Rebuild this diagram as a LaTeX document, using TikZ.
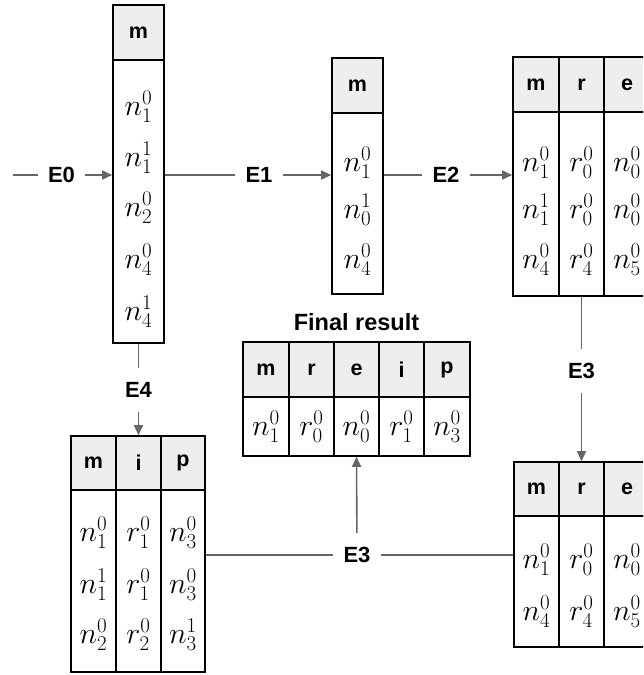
\RequirePackage{fix-cm}
\documentclass[tikz,border=0pt]{standalone}
\usepackage{fontspec}
\setmainfont{Liberation Sans}
\usetikzlibrary{arrows.meta}
\definecolor{hdr}{HTML}{EEEEEE}
\definecolor{conncol}{HTML}{666666}
\newcommand\mkcell[7]{\node[#2, minimum width={#4-#3}, minimum height={#6-#5}] (#1) at ({(#3+#4)/2},{(#5+#6)/2}) {#7};}
\begin{document}
\begin{tikzpicture}[x=1pt,y=-1pt,
  hcell/.style={draw=black, line width=1.6pt, fill=hdr, inner sep=0pt, font=\fontsize{21.5}{24}\selectfont\bfseries},
  bcell/.style={draw=black, line width=1.6pt, fill=white, inner sep=0pt},
  val/.style={inner sep=0pt, font=\fontsize{30}{34}\selectfont},
  lbl/.style={inner xsep=10pt, inner ysep=14pt, font=\fontsize{22}{26}\selectfont\bfseries},
  title/.style={inner sep=0pt, font=\fontsize{23.5}{28}\selectfont\bfseries},
  conn/.style={draw=conncol, line width=1.6pt},
  arr/.style={conn, -{Triangle[length=10pt,width=9pt]}},
]
\useasboundingbox (0,0) rectangle (643,675);
\clip (0,0) rectangle (643,675);

% Table T0
\mkcell{t0h}{hcell}{113}{164}{5}{60}{m}
\mkcell{t0b}{bcell}{113}{164}{60}{343}{}
\node[val] (t0v1) at (138.5,107) {$n_1^0$};
\node[val] (t0v2) at (138.5,158) {$n_1^1$};
\node[val] (t0v3) at (138.5,208) {$n_2^0$};
\node[val] (t0v4) at (138.5,260) {$n_4^0$};
\node[val] (t0v5) at (138.5,312) {$n_4^1$};

% Table T1
\mkcell{t1h}{hcell}{332}{383}{58}{113}{m}
\mkcell{t1b}{bcell}{332}{383}{113}{294}{}
\node[val] (t1v1) at (357.5,163) {$n_1^0$};
\node[val] (t1v2) at (357.5,210) {$n_0^1$};
\node[val] (t1v3) at (357.5,260) {$n_4^0$};

% Table T2
\mkcell{t2h1}{hcell}{513}{559}{57}{112}{m}
\mkcell{t2h2}{hcell}{559}{604}{57}{112}{r}
\mkcell{t2h3}{hcell}{604}{650}{57}{112}{e}
\mkcell{t2b1}{bcell}{513}{559}{112}{296}{}
\mkcell{t2b2}{bcell}{559}{604}{112}{296}{}
\mkcell{t2b3}{bcell}{604}{650}{112}{296}{}
\node[val] (t2a1) at (536,163) {$n_1^0$};
\node[val] (t2a2) at (536,210) {$n_1^1$};
\node[val] (t2a3) at (536,260) {$n_4^0$};
\node[val] (t2b1v) at (581.5,163) {$r_0^0$};
\node[val] (t2b2v) at (581.5,210) {$r_0^0$};
\node[val] (t2b3v) at (581.5,260) {$r_4^0$};
\node[val] (t2c1) at (627,163) {$n_0^0$};
\node[val] (t2c2) at (627,210) {$n_0^0$};
\node[val] (t2c3) at (627,260) {$n_5^0$};

% Table T3
\mkcell{t3h1}{hcell}{514}{559}{462}{516}{m}
\mkcell{t3h2}{hcell}{559}{604}{462}{516}{r}
\mkcell{t3h3}{hcell}{604}{650}{462}{516}{e}
\mkcell{t3b1}{bcell}{514}{559}{516}{647}{}
\mkcell{t3b2}{bcell}{559}{604}{516}{647}{}
\mkcell{t3b3}{bcell}{604}{650}{516}{647}{}
\node[val] (t3a1) at (536.5,560) {$n_1^0$};
\node[val] (t3a2) at (536.5,612) {$n_4^0$};
\node[val] (t3b1v) at (581.5,560) {$r_0^0$};
\node[val] (t3b2v) at (581.5,612) {$r_4^0$};
\node[val] (t3c1) at (627,560) {$n_0^0$};
\node[val] (t3c2) at (627,612) {$n_5^0$};

% Table T4
\mkcell{t4h1}{hcell}{71}{116}{436}{490}{m}
\mkcell{t4h2}{hcell}{116}{161}{436}{490}{i}
\mkcell{t4h3}{hcell}{161}{205}{436}{490}{p}
\mkcell{t4b1}{bcell}{71}{116}{490}{672}{}
\mkcell{t4b2}{bcell}{116}{161}{490}{672}{}
\mkcell{t4b3}{bcell}{161}{205}{490}{672}{}
\node[val] (t4a1) at (93.5,533) {$n_1^0$};
\node[val] (t4a2) at (93.5,585) {$n_1^1$};
\node[val] (t4a3) at (93.5,635) {$n_2^0$};
\node[val] (t4b1v) at (138.5,533) {$r_1^0$};
\node[val] (t4b2v) at (138.5,585) {$r_1^0$};
\node[val] (t4b3v) at (138.5,635) {$r_2^0$};
\node[val] (t4c1) at (183,533) {$n_3^0$};
\node[val] (t4c2) at (183,585) {$n_3^0$};
\node[val] (t4c3) at (183,635) {$n_3^1$};

% Final result
\node[title] (ftitle) at (356.5,322) {Final result};
\mkcell{fh1}{hcell}{243}{289}{342}{397}{m}
\mkcell{fh2}{hcell}{289}{334}{342}{397}{r}
\mkcell{fh3}{hcell}{334}{379}{342}{397}{e}
\mkcell{fh4}{hcell}{379}{424}{342}{397}{i}
\mkcell{fh5}{hcell}{424}{470}{342}{397}{p}
\mkcell{fb1}{bcell,val}{243}{289}{397}{456}{$n_1^0$}
\mkcell{fb2}{bcell,val}{289}{334}{397}{456}{$r_0^0$}
\mkcell{fb3}{bcell,val}{334}{379}{397}{456}{$n_0^0$}
\mkcell{fb4}{bcell,val}{379}{424}{397}{456}{$r_1^0$}
\mkcell{fb5}{bcell,val}{424}{470}{397}{456}{$n_3^0$}

% Labels
\coordinate (s0) at (13,175);
\node[lbl] (e0) at (61.5,175) {E0};
\node[lbl] (e1) at (259,175) {E1};
\node[lbl] (e2) at (446,175) {E2};
\node[lbl] (e4) at (138.5,390) {E4};
\node[lbl] (e3r) at (581.5,371) {E3};
\node[lbl] (e3b) at (357,555) {E3};

% Connectors
\draw[conn] (s0) -- (e0);
\draw[arr] (e0) -- (e0 -| t0b.west);
\draw[conn] (e1 -| t0b.east) -- (e1);
\draw[arr] (e1) -- (e1 -| t1b.west);
\draw[conn] (e2 -| t1b.east) -- (e2);
\draw[arr] (e2) -- (e2 -| t2b1.west);
\draw[conn] (t0b.south) -- (e4);
\draw[arr] (e4) -- (t4h2.north);
\draw[conn] (t2b2.south) -- (e3r);
\draw[arr] (e3r) -- (t3h2.north);
\draw[conn] (e3b -| t4b3.east) -- (e3b);
\draw[conn] (e3b) -- (e3b -| t3b1.west);
\draw[arr] (e3b) -- (fb3.south);
\end{tikzpicture}
\end{document}
